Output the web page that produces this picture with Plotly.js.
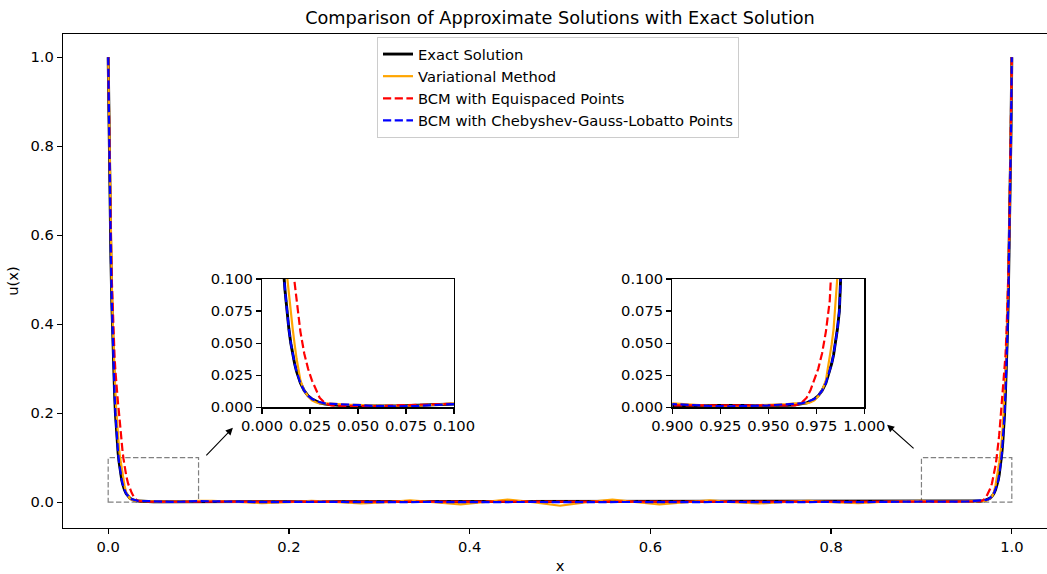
<!DOCTYPE html>
<html>
<head>
<meta charset="utf-8">
<script src="https://cdn.plot.ly/plotly-3.0.1.min.js"></script>
<style>
html,body{margin:0;padding:0;overflow:hidden;background:#fff;}
#chart{width:1060px;height:574px;}
</style>
</head>
<body>
<div id="chart"></div>
<script>
// x sample positions
const xGrid = [
  0,0.001,0.002,0.003,0.004,0.005,0.006,0.007,0.008,0.009,0.010,0.011,0.012,0.013,0.014,0.015,0.016,0.017,0.018,0.020,0.022,0.024,0.026,0.028,0.030,0.033,0.036,0.040,0.045,0.050,0.060,0.070,0.080,0.090,0.100,
  0.115,0.14,0.17,0.20,0.225,0.25,0.28,0.31,0.334,0.36,0.39,0.415,0.442,0.47,0.50,0.53,0.558,0.585,0.61,0.64,0.666,0.69,0.72,0.75,0.775,0.80,0.83,0.86,0.885,
  0.900,0.910,0.920,0.930,0.940,0.950,0.955,0.960,0.964,0.967,0.970,0.972,0.974,0.976,0.978,0.980,0.982,0.983,0.984,0.985,0.986,0.987,0.988,0.989,0.990,0.991,0.992,0.993,0.994,0.995,0.996,0.997,0.998,0.999,1.000
];
const exactSolution = [
  1.0,0.82,0.67,0.55,0.45,0.37,0.30,0.25,0.20,0.165,0.135,0.111,0.091,0.075,0.061,0.050,0.041,0.034,0.028,0.019,0.013,0.009,0.0065,0.0048,0.0035,0.0025,0.002,0.0015,0.0012,0.001,0.001,0.001,0.001,0.001,0.001,
  0.001,0.001,0.001,0.001,0.001,0.001,0.001,0.001,0.001,0.001,0.001,0.001,0.001,0.001,0.001,0.001,0.001,0.001,0.001,0.001,0.001,0.001,0.001,0.001,0.001,0.001,0.001,0.001,0.001,
  0.001,0.001,0.001,0.001,0.001,0.001,0.0012,0.0015,0.002,0.0025,0.0035,0.0048,0.0065,0.009,0.013,0.019,0.028,0.034,0.041,0.050,0.061,0.075,0.091,0.111,0.135,0.165,0.20,0.25,0.30,0.37,0.45,0.55,0.67,0.82,1.0
];
const variationalMethod = [
  1.0,0.84,0.70,0.585,0.49,0.41,0.345,0.29,0.245,0.205,0.172,0.142,0.12,0.103,0.088,0.074,0.061,0.049,0.038,0.021,0.013,0.0085,0.0055,0.004,0.003,0.003,0.003,0.0025,0.002,0.002,0.0012,0.001,0.0012,0.002,0.003,
  0.003,0.001,-0.002,0.0,0.003,0.0005,-0.003,0.0,0.004,0.0,-0.005,0.0,0.006,0.0,-0.008,0.0,0.006,0.0,-0.005,0.0,0.004,0.0,-0.003,0.0005,0.003,0.0,-0.002,0.001,0.003,
  0.003,0.002,0.0012,0.001,0.0012,0.002,0.002,0.0025,0.003,0.003,0.003,0.004,0.0055,0.0085,0.013,0.021,0.038,0.049,0.061,0.074,0.088,0.103,0.12,0.142,0.172,0.205,0.245,0.29,0.345,0.41,0.49,0.585,0.70,0.84,1.0
];
const bcmEquispaced = [
  1.0,0.84,0.70,0.59,0.50,0.43,0.375,0.33,0.295,0.265,0.24,0.22,0.20,0.175,0.15,0.13,0.112,0.097,0.083,0.059,0.042,0.030,0.021,0.0135,0.0075,0.003,0.0015,0.0012,0.001,0.001,0.001,0.001,0.001,0.0012,0.0015,
  0.0012,0.001,0.001,0.001,0.001,0.001,0.001,0.001,0.001,0.001,0.001,0.001,0.001,0.001,0.001,0.001,0.001,0.001,0.001,0.001,0.001,0.001,0.001,0.001,0.001,0.001,0.001,0.001,0.0012,
  0.0015,0.0012,0.001,0.001,0.001,0.001,0.001,0.0012,0.0015,0.003,0.0075,0.0135,0.021,0.030,0.042,0.059,0.083,0.097,0.112,0.13,0.15,0.175,0.20,0.22,0.24,0.265,0.295,0.33,0.375,0.43,0.50,0.59,0.70,0.84,1.0
];
const bcmChebyshev = [
  1.0,0.82,0.67,0.55,0.45,0.37,0.30,0.25,0.20,0.165,0.135,0.111,0.091,0.075,0.061,0.050,0.041,0.034,0.028,0.019,0.013,0.009,0.0065,0.005,0.004,0.003,0.0028,0.0025,0.002,0.0015,0.001,0.0008,0.001,0.0018,0.0025,
  0.002,0.0005,0.0,0.0005,0.001,0.0005,0.0,0.0005,0.001,0.0005,0.0,0.0005,0.001,0.0005,0.0,0.0005,0.001,0.0005,0.0,0.0005,0.001,0.0005,0.0,0.0005,0.001,0.0005,0.0,0.0005,0.002,
  0.0025,0.0018,0.001,0.0008,0.001,0.0015,0.002,0.0025,0.0028,0.003,0.004,0.005,0.0065,0.009,0.013,0.019,0.028,0.034,0.041,0.050,0.061,0.075,0.091,0.111,0.135,0.165,0.20,0.25,0.30,0.37,0.45,0.55,0.67,0.82,1.0
];
const seriesNames = ['Exact Solution','Variational Method','BCM with Equispaced Points','BCM with Chebyshev-Gauss-Lobatto Points'];
const mainTicks = [0.0,0.2,0.4,0.6,0.8,1.0];
const insetYTicks = [0.000,0.025,0.050,0.075,0.100];
const insetLeftXTicks = [0.000,0.025,0.050,0.075,0.100];
const insetRightXTicks = [0.900,0.925,0.950,0.975,1.000];

const seriesY = [exactSolution, variationalMethod, bcmEquispaced, bcmChebyshev];
const styles = [
  {color:'#000000', width:2.9, dash:'solid'},
  {color:'#FFA500', width:2.2, dash:'solid'},
  {color:'#FF0000', width:2.2, dash:'8.2px,3.5px'},
  {color:'#0000FF', width:2.2, dash:'8.2px,3.5px'}
];
const traces = [];
[['x','y',true],['x2','y2',false],['x3','y3',false]].forEach(([xa,ya,leg])=>{
  seriesY.forEach((ys,i)=>{
    traces.push({
      type:'scatter', mode:'lines', x:xGrid, y:ys, name:seriesNames[i],
      xaxis:xa, yaxis:ya, showlegend:leg, legendgroup:'g'+i,
      line:{color:styles[i].color, width:styles[i].width, dash:styles[i].dash},
      hoverinfo:'skip'
    });
  });
});

const F = 'DejaVu Sans';
const FS = 14.7;
const axBase = {showline:true, mirror:true, linecolor:'#000', linewidth:1.2, ticks:'outside', ticklen:5, tickwidth:1.2, tickcolor:'#000', showgrid:false, zeroline:false, tickfont:{family:F,size:FS,color:'#000'}};

const layout = {
  width:1060, height:574,
  margin:{l:63, r:3, t:34, b:46, pad:0},
  paper_bgcolor:'#fff', plot_bgcolor:'#fff',
  font:{family:F, size:FS, color:'#000'},
  title:{text:'Comparison of Approximate Solutions with Exact Solution', font:{family:F,size:17.7,color:'#000'}, xref:'paper', x:0.5, xanchor:'center', yref:'container', y:1-18/574, yanchor:'middle'},
  showlegend:true,
  legend:{x:(377-63)/994, y:(528-37)/494, xanchor:'left', yanchor:'top', bgcolor:'rgba(255,255,255,0.8)', bordercolor:'#cccccc', borderwidth:1, font:{family:F,size:FS,color:'#000'}, tracegroupgap:0},
  xaxis:Object.assign({}, axBase, {range:[-0.05,1.05], tickvals:mainTicks, tickformat:'.1f', title:{text:'x', standoff:7, font:{family:F,size:FS}}}),
  yaxis:Object.assign({}, axBase, {range:[-0.058,1.052], tickvals:mainTicks, tickformat:'.1f', title:{text:'u(x)', standoff:8, font:{family:F,size:FS}}}),
  xaxis2:Object.assign({}, axBase, {anchor:'y2', domain:[(262-63)/994,(454-63)/994], range:[0,0.1], tickvals:insetLeftXTicks, tickformat:'.3f'}),
  yaxis2:Object.assign({}, axBase, {anchor:'x2', domain:[(528-407.3)/494,(528-279)/494], range:[0,0.1], tickvals:insetYTicks, tickformat:'.3f'}),
  xaxis3:Object.assign({}, axBase, {anchor:'y3', domain:[(672.3-63)/994,(864.3-63)/994], range:[0.9,1.0], tickvals:insetRightXTicks, tickformat:'.3f'}),
  yaxis3:Object.assign({}, axBase, {anchor:'x3', domain:[(528-407.3)/494,(528-279)/494], range:[0,0.1], tickvals:insetYTicks, tickformat:'.3f'}),
  shapes:[
    {type:'rect', xref:'x', yref:'y', x0:0, x1:0.1, y0:0, y1:0.1, line:{color:'#808080', width:1.2, dash:'5.4px,2.4px'}, layer:'below'},
    {type:'rect', xref:'x', yref:'y', x0:0.9, x1:1.0, y0:0, y1:0.1, line:{color:'#808080', width:1.2, dash:'5.4px,2.4px'}, layer:'below'}
  ],
  annotations:[
    {xref:'x', yref:'y', axref:'x', ayref:'y', x:0.138, y:0.167, ax:0.107, ay:0.102, text:'', showarrow:true, arrowhead:2, arrowsize:1.3, arrowwidth:1.1, arrowcolor:'#000'},
    {xref:'x', yref:'y', axref:'x', ayref:'y', x:0.862, y:0.174, ax:0.893, ay:0.118, text:'', showarrow:true, arrowhead:2, arrowsize:1.3, arrowwidth:1.1, arrowcolor:'#000'}
  ]
};
Plotly.newPlot('chart', traces, layout, {displayModeBar:false, staticPlot:true});
</script>
</body>
</html>
